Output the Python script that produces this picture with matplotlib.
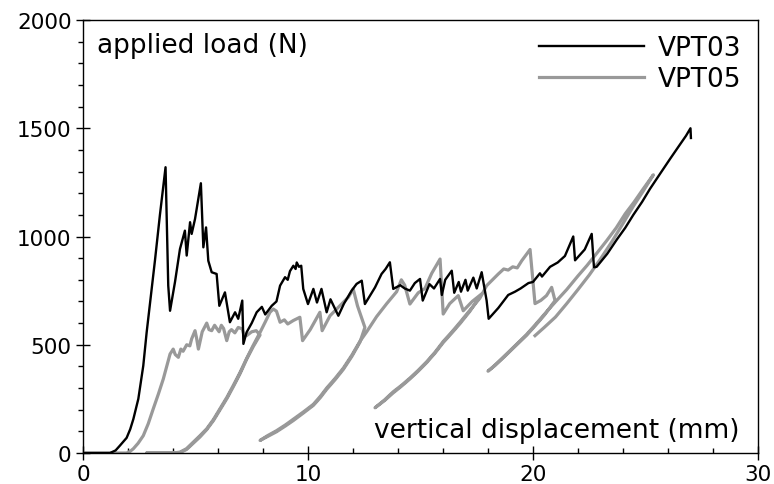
import matplotlib
matplotlib.use("Agg")
import matplotlib.pyplot as plt
from matplotlib.ticker import MultipleLocator

# VPT03: load vs vertical displacement (black)
vpt03_x = [0, 1.2, 1.45, 1.64, 1.94, 2.1, 2.24, 2.46, 2.68, 2.83, 3.0, 3.2,
           3.42, 3.67,
           3.79, 3.87, 4.09, 4.31, 4.53, 4.61, 4.76, 4.83, 4.98, 5.24, 5.35,
           5.47, 5.57, 5.72, 5.94, 6.06, 6.31, 6.53, 6.76, 6.9, 7.08, 7.13,
           7.27, 7.5, 7.72, 7.95, 8.1, 8.39, 8.6, 8.76, 8.98, 9.1, 9.2, 9.35,
           9.45, 9.5, 9.6, 9.7, 9.79,
           10.0, 10.24, 10.4, 10.6, 10.83, 11.0, 11.35, 11.6, 11.94, 12.16,
           12.39, 12.53, 12.98, 13.27, 13.45, 13.64, 13.79, 14.1, 14.3, 14.53,
           14.75, 14.98, 15.1, 15.4, 15.6, 15.87, 15.95, 16.1, 16.39, 16.5,
           16.7, 16.8, 17.0, 17.1, 17.35, 17.5, 17.72, 17.94, 18.03, 18.46,
           18.9, 19.2, 19.45, 19.8, 20.0, 20.31, 20.4, 20.76, 21.1, 21.42,
           21.79, 21.87, 22.3, 22.61, 22.71, 22.83, 23.3, 23.72, 24.1, 24.46,
           24.85, 25.2, 25.65, 26.09, 26.5, 26.8, 27.0, 27.02]
vpt03_y = [0, 0, 12, 34, 70, 110, 157, 250, 403, 557, 710, 890,
           1100, 1320,
           773, 657, 790, 942, 1027, 912, 1066, 1012, 1081, 1246, 950,
           1042, 888, 835, 827, 680, 742, 604, 650, 620, 704, 504,
           557, 600, 650, 675, 640, 680, 700, 773, 812, 800, 840, 865,
           850, 880, 860, 865, 758,
           688, 758, 695, 758, 650, 710, 634, 690, 750, 781,
           796, 688, 765, 827, 850, 881, 758, 775, 760, 750,
           785, 804, 704, 780, 760, 804, 730, 800, 842, 740,
           790, 745, 800, 750, 810, 760, 835, 704, 620, 670,
           730, 745, 760, 785, 790, 830, 815, 860, 880, 910,
           1000, 890, 940, 1012, 858, 860, 920, 985, 1040, 1100,
           1160, 1220, 1290, 1358, 1420, 1465, 1500, 1455]

# VPT05: load vs vertical displacement with unload/reload cycles (grey)
vpt05_x = [0, 1.94, 2.1, 2.24, 2.45, 2.68, 2.9, 3.12, 3.35, 3.57, 3.75, 3.87,
           4.01, 4.1, 4.24, 4.35, 4.45, 4.61, 4.75, 4.83, 4.98, 5.05, 5.13,
           5.3, 5.5, 5.6, 5.72, 5.85, 6.05, 6.15, 6.25, 6.39, 6.5, 6.6, 6.75,
           6.9, 7.08, 7.15, 7.27, 7.5, 7.7, 7.87,
           7.57, 7.27, 6.98, 6.68, 6.4, 6.09, 5.8, 5.5, 5.2, 4.9, 4.6, 4.31,
           4.0, 2.83,
           4.0, 4.31, 4.6, 4.9, 5.2, 5.5, 5.8, 6.09, 6.4, 6.68, 6.98, 7.27,
           7.57, 7.87, 8.1, 8.31, 8.46,
           8.6, 8.76, 8.95, 9.1, 9.35, 9.64, 9.76, 10.1, 10.53, 10.63, 10.98,
           11.3, 11.57, 11.8, 12.01, 12.2, 12.53,
           12.31, 11.95, 11.57, 11.2, 10.83, 10.55, 10.24, 9.8, 9.35, 9.0,
           8.6, 8.2, 7.87,
           8.2, 8.6, 9.0, 9.35, 9.8, 10.24, 10.55, 10.83, 11.2, 11.57, 11.95,
           12.31, 12.61, 13.05, 13.5, 13.94,
           14.15, 14.3, 14.53, 14.9, 15.2, 15.5, 15.87, 16.01, 16.3, 16.68,
           16.9, 17.3, 17.72,
           17.2, 16.76, 16.4, 16.01, 15.65, 15.28, 14.9, 14.53, 14.15, 13.79,
           13.4, 12.98,
           13.4, 13.79, 14.15, 14.53, 14.9, 15.28, 15.65, 16.01, 16.4, 16.76,
           17.2, 17.64, 17.94,
           18.2, 18.46, 18.7, 18.9, 19.1, 19.3, 19.5, 19.87, 20.09, 20.35,
           20.6, 20.83, 20.98,
           20.5, 20.1, 19.72, 19.3, 18.9, 18.6, 18.3, 18.0,
           18.3, 18.6, 18.9, 19.3, 19.72, 20.1, 20.5, 20.98, 21.5, 22.0, 22.4,
           22.8, 23.27, 23.7, 24.1, 24.5, 24.9, 25.35,
           24.9, 24.46, 24.0, 23.5, 22.98, 22.5, 22.0, 21.5, 21.0, 20.5, 20.09]
vpt05_y = [0, 0, 8, 20, 45, 80, 135, 203, 272, 342, 410, 457,
           480, 455, 442, 480, 470, 500, 495, 527, 565, 530, 480,
           560, 600, 570, 565, 590, 560, 590, 575, 519, 560, 570, 555,
           580, 573, 545, 542, 560, 565, 545,
           492, 432, 366, 306, 252, 199, 150, 108, 74, 45, 16, 2,
           0, 0,
           0, 4, 20, 50, 80, 112, 155, 205, 258, 312, 372, 436,
           498, 557, 605, 650, 665,
           655, 604, 615, 596, 612, 627, 519, 570, 650, 565, 634,
           668, 696, 720, 758, 680, 580,
           512, 446, 386, 338, 294, 256, 220, 185, 150, 125,
           98, 76, 58,
           80, 103, 130, 156, 190, 225, 262, 300, 344, 392, 452,
           516, 560, 630, 690, 745,
           800, 775, 688, 740, 760, 830, 896, 642, 690, 727,
           657, 700, 735,
           655, 598, 555, 510, 462, 418, 378, 342, 308, 278,
           242, 209,
           245, 283, 312, 346, 382, 422, 466, 515, 560, 604,
           660, 715, 773,
           800, 827, 850, 845, 860, 855, 888, 940, 690, 705,
           727, 765, 704,
           636, 588, 544, 502, 462, 432, 403, 378,
           405, 435, 465, 505, 548, 592, 640, 696, 755, 818, 866,
           918, 980, 1040, 1105, 1160, 1220, 1285,
           1210, 1140, 1060, 975, 893, 822, 755, 690, 628, 580, 542]

plt.rcParams['font.family'] = 'DejaVu Sans'
plt.rcParams['font.size'] = 15.5

fig = plt.figure(figsize=(7.74, 4.85), dpi=100)
ax = fig.add_axes([0.1072, 0.0639, 0.8721, 0.8928])

l5, = ax.plot(vpt05_x, vpt05_y, color='#999999', lw=2.3, label='VPT05', zorder=2)
l3, = ax.plot(vpt03_x, vpt03_y, color='black', lw=1.7, label='VPT03', zorder=3)

ax.set_xlim(0, 30)
ax.set_ylim(0, 2000)
ax.xaxis.set_major_locator(MultipleLocator(10))
ax.xaxis.set_minor_locator(MultipleLocator(2))
ax.yaxis.set_major_locator(MultipleLocator(500))
ax.yaxis.set_minor_locator(MultipleLocator(100))
ax.tick_params(which='major', direction='inout', length=9.5, width=1.0)
ax.tick_params(axis='x', which='minor', direction='in', length=3.5, width=1.0)
ax.tick_params(axis='y', which='minor', direction='out', length=3.5, width=1.0)
for s in ax.spines.values():
    s.set_linewidth(1.0)

ax.text(0.021, 0.942, 'applied load (N)', transform=ax.transAxes,
        ha='left', va='center', fontsize=19)
ax.text(0.973, 0.053, 'vertical displacement (mm)', transform=ax.transAxes,
        ha='right', va='center', fontsize=19)

ax.legend(handles=[l3, l5], loc='upper right', bbox_to_anchor=(0.975, 0.965),
          frameon=False, borderaxespad=0, borderpad=0, handlelength=3.95,
          handletextpad=0.53, labelspacing=0.2, fontsize=19)

fig.savefig('out.png', dpi=100)
